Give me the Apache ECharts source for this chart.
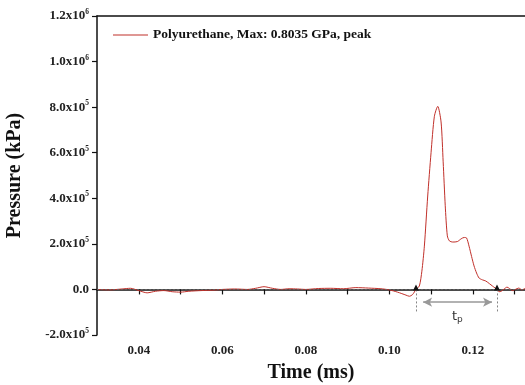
<!DOCTYPE html>
<html>
<head>
<meta charset="utf-8">
<script src="https://cdn.jsdelivr.net/npm/echarts@6/dist/echarts.min.js"></script>
<style>
  html, body { margin: 0; padding: 0; background: #fff; }
  #chart { width: 525px; height: 385px; }
</style>
</head>
<body>
<div id="chart"></div>
<script>
// time in ms, pressure in kPa
const times = [
  0.030, 0.033, 0.036, 0.038, 0.040, 0.042, 0.044, 0.046, 0.048, 0.050,
  0.052, 0.055, 0.058, 0.060, 0.063, 0.066, 0.068, 0.070, 0.072, 0.074,
  0.076, 0.078, 0.080, 0.083, 0.086, 0.089, 0.092, 0.095, 0.098, 0.100,
  0.102, 0.104, 0.1048, 0.1056, 0.1064, 0.1072, 0.1078, 0.1084, 0.1092, 0.1100,
  0.1108, 0.1116, 0.1124, 0.1129, 0.1134, 0.1139, 0.1144, 0.1152, 0.1163, 0.1172,
  0.1179, 0.1185, 0.1191, 0.1197, 0.1203, 0.1209, 0.1215, 0.1223, 0.1231, 0.1240,
  0.1247, 0.1253, 0.1258, 0.1263, 0.1268, 0.1275, 0.1282, 0.1288, 0.1295, 0.1302,
  0.1310, 0.1318, 0.1325
];
const pressures = [
  0, -2000, 2000, 5000, -5000, -15000, -8000, -5000, -10000, -12000,
  -8000, -5000, -3000, 0, 2000, 0, 5000, 12000, 5000, 0,
  3000, 2000, 0, 4000, 5000, 3000, 8000, 6000, 3000, -2000,
  -12000, -25000, -30000, -22000, 0, 15000, 80000, 190000, 410000, 600000,
  760000, 803500, 735000, 560000, 367000, 235000, 213000, 208000, 210000, 222000,
  228000, 226000, 190000, 145000, 103000, 72000, 50000, 42000, 37000, 25000,
  15000, 7000, 0, -10000, -8000, 2000, 10000, 4000, -5000, 0,
  6000, -2000, 5000
];

const seriesName = 'Polyurethane, Max: 0.8035 GPa, peak';
const pulseStart = 0.1064;
const pulseEnd = 0.1258;
const arrowFrom = 0.1081;
const arrowTo = 0.1246;
const arrowLevel = -56000;
const guideBottom = -100000;
const tpAt = [0.1163, -118000];

const xMin = 0.03, xMax = 0.1325;
const yMin = -200000, yMax = 1200000, yStep = 200000;

const serif = '"Liberation Serif", "DejaVu Serif", serif';

function yLabel(v) {
  if (Math.abs(v) < 1e-9) return '0.0';
  const e = Math.floor(Math.log10(Math.abs(v)));
  const m = v / Math.pow(10, e);
  return m.toFixed(1) + 'x10{sup|' + e + '}';
}

const chart = echarts.init(document.getElementById('chart'));
chart.setOption({
  animation: false,
  grid: { left: 97, right: 0, top: 16, bottom: 50, outerBoundsMode: 'none', containLabel: false },
  legend: {
    data: [{ name: seriesName, icon: 'rect' }],
    left: 108, top: 23,
    itemWidth: 35, itemHeight: 1.2, itemGap: 6,
    textStyle: { fontFamily: serif, fontSize: 13.5, fontWeight: 'bold', color: '#111' }
  },
  xAxis: [{
    type: 'value', min: xMin, max: xMax, interval: 0.01,
    name: 'Time (ms)', nameLocation: 'middle', nameGap: 28,
    nameTextStyle: { fontFamily: serif, fontSize: 20, fontWeight: 'bold', color: '#111' },
    axisLine: { lineStyle: { color: '#111', width: 1.5 } },
    axisTick: { length: 5, lineStyle: { color: '#111', width: 1.2 } },
    splitLine: { show: false },
    axisLabel: {
      showMinLabel: false, showMaxLabel: false, margin: 9,
      fontFamily: serif, fontSize: 13, fontWeight: 'bold', color: '#222',
      formatter: v => (Math.round(v * 100) % 2 === 0 ? v.toFixed(2) : '')
    }
  }, {
    type: 'value', position: 'top', min: xMin, max: xMax,
    axisLine: { show: true, lineStyle: { color: '#111', width: 1.5 } },
    axisTick: { show: false }, axisLabel: { show: false }, splitLine: { show: false }
  }],
  yAxis: {
    type: 'value', min: yMin, max: yMax, interval: yStep,
    name: 'Pressure (kPa)', nameLocation: 'middle', nameGap: 72,
    nameTextStyle: { fontFamily: serif, fontSize: 20, fontWeight: 'bold', color: '#111' },
    axisLine: { show: true, lineStyle: { color: '#111', width: 1.5 } },
    axisTick: { show: true, length: 5, lineStyle: { color: '#111', width: 1.2 } },
    splitLine: { show: false },
    axisLabel: {
      margin: 8, fontFamily: serif, fontSize: 13, fontWeight: 'bold', color: '#222',
      formatter: yLabel,
      rich: { sup: { fontFamily: serif, fontSize: 7.5, fontWeight: 'bold', padding: [0, 0, 8, 0], color: '#222' } }
    }
  },
  series: [{
    name: seriesName,
    type: 'line',
    data: times.map((t, i) => [t, pressures[i]]),
    symbol: 'none',
    smooth: 0.25,
    lineStyle: { color: '#c0302a', width: 1 },
    itemStyle: { color: '#c0302a' },
    z: 3,
    markLine: {
      silent: true, symbol: 'none', label: { show: false },
      lineStyle: { color: '#666', type: [2, 2], width: 0.8 },
      data: [
        [{ coord: [xMin, 0] }, { coord: [xMax, 0] }],
        [{ coord: [pulseStart, 0] }, { coord: [pulseStart, guideBottom] }],
        [{ coord: [pulseEnd, 0] }, { coord: [pulseEnd, guideBottom] }]
      ]
    },
    markPoint: {
      silent: true,
      data: [
        { coord: [pulseStart, 0], symbol: 'triangle', symbolSize: [6, 6], symbolOffset: [0, -2],
          itemStyle: { color: '#111' }, label: { show: false } },
        { coord: [pulseEnd, 0], symbol: 'triangle', symbolSize: [6, 6], symbolOffset: [0, -2],
          itemStyle: { color: '#111' }, label: { show: false } },
        { coord: tpAt, symbol: 'circle', symbolSize: 0,
          label: {
            show: true, position: 'inside', formatter: 't{sub|p}',
            fontFamily: '"DejaVu Sans", sans-serif', fontSize: 13, color: '#333',
            rich: { sub: { fontFamily: '"DejaVu Sans", sans-serif', fontSize: 9, color: '#333', padding: [6, 0, 0, 0] } }
          } }
      ]
    }
  }, {
    name: 'tp',
    type: 'line',
    data: [],
    markLine: {
      silent: true, symbol: ['arrow', 'arrow'], symbolSize: [7, 9], label: { show: false },
      lineStyle: { color: '#999', type: 'solid', width: 1.5 },
      data: [[{ coord: [arrowFrom, arrowLevel] }, { coord: [arrowTo, arrowLevel] }]]
    }
  }]
});
</script>
</body>
</html>
